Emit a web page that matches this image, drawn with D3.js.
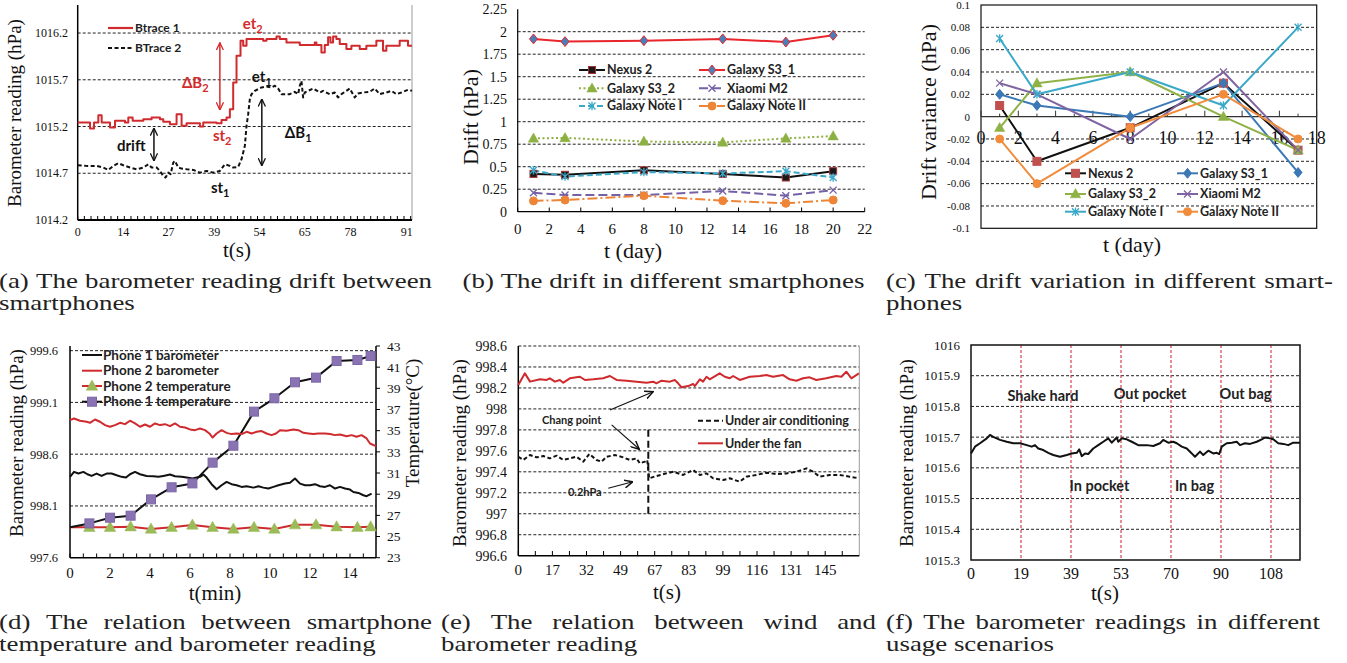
<!DOCTYPE html>
<html><head><meta charset="utf-8">
<script src="https://cdn.jsdelivr.net/npm/d3@7"></script>
<style>body{margin:0;background:#fff}svg{display:block}</style>
</head><body><script>
// ================= DATA =================
// (a) barometer drift between smartphones (x: sample index, y: hPa)
const aYTicks=[1014.2,1014.7,1015.2,1015.7,1016.2];
const aXTickPos=[0,13.7,27.3,41,54.6,68.2,81.9,98.8];
const aXTickLabels=["0","14","27","39","54","65","78","91"];
const aBtrace1=[[0,1015.243],[3.7,1015.179],[4.9,1015.243],[6.2,1015.321],[7.2,1015.243],[9.7,1015.189],[11.2,1015.261],[14.2,1015.243],[15.2,1015.296],[16.5,1015.261],[19.7,1015.279],[22.2,1015.296],[24.7,1015.279],[25.7,1015.25],[27.7,1015.225],[29.7,1015.332],[31.2,1015.207],[32.7,1015.236],[36.7,1015.2],[37.7,1015.243],[41.7,1015.236],[43.2,1015.271],[44.7,1015.296],[45.7,1015.386],[46.7,1015.671],[47.7,1015.957],[48.9,1016.118],[49.7,1016.064],[50.7,1016.136],[55.7,1016.118],[56.7,1016.136],[59.7,1016.164],[60.7,1016.136],[62.7,1016.1],[66.7,1016.071],[71.2,1016.1],[71.7,1016.071],[73.2,1015.993],[74.2,1016.071],[75.2,1016.154],[75.9,1016.1],[76.7,1016.164],[77.7,1016.136],[78.7,1016.082],[80.7,1016.029],[82.2,1016.064],[84.7,1016.029],[86.7,1016.064],[89.7,1016.118],[91.7,1016.011],[92.7,1016.064],[96.7,1016.118],[99.2,1016.064],[100.4,1016.064]];
const aBtrace2=[[0,1014.786],[2.7,1014.779],[5.7,1014.779],[7.7,1014.761],[9.2,1014.736],[10.7,1014.779],[12.2,1014.807],[13.7,1014.786],[15.7,1014.761],[17.7,1014.743],[19.7,1014.761],[21.2,1014.796],[22.2,1014.761],[23.7,1014.761],[24.7,1014.725],[25.7,1014.671],[26.4,1014.654],[27.2,1014.707],[27.9,1014.689],[28.7,1014.814],[29.2,1014.832],[30.2,1014.761],[31.2,1014.75],[32.7,1014.743],[34.7,1014.736],[36.7,1014.707],[38.7,1014.725],[40.7,1014.707],[42.7,1014.725],[44.2,1014.796],[45.7,1014.779],[46.7,1014.761],[48.2,1014.768],[49.2,1014.85],[50.2,1014.993],[50.7,1015.207],[51.2,1015.332],[51.7,1015.493],[52.2,1015.546],[53.2,1015.582],[55.2,1015.618],[56.7,1015.629],[58.2,1015.618],[59.2,1015.636],[60.2,1015.607],[61.2,1015.546],[63.7,1015.546],[65.2,1015.571],[66.2,1015.546],[66.7,1015.636],[67.2,1015.689],[67.7,1015.511],[68.2,1015.564],[69.2,1015.582],[70.7,1015.607],[72.7,1015.564],[73.7,1015.582],[75.7,1015.546],[77.2,1015.564],[78.2,1015.511],[79.2,1015.546],[80.7,1015.582],[81.7,1015.607],[83.2,1015.511],[84.2,1015.554],[85.7,1015.564],[87.7,1015.571],[89.2,1015.607],[90.7,1015.546],[92.7,1015.564],[94.2,1015.582],[95.7,1015.546],[97.2,1015.564],[99.2,1015.593],[100.4,1015.582]];
const aNotes=[
 {t:"et",sub:"2",x:49.6,y:1016.24,c:"red"},{t:"ΔB",sub:"2",x:31.3,y:1015.61,c:"red"},
 {t:"st",sub:"2",x:40.6,y:1015.045,c:"red"},{t:"drift",sub:"",x:11.8,y:1014.94,c:"black"},
 {t:"st",sub:"1",x:40,y:1014.49,c:"black"},{t:"et",sub:"1",x:52.3,y:1015.676,c:"black"},
 {t:"ΔB",sub:"1",x:62.2,y:1015.078,c:"black"}];
const aArrows=[{x:42.7,y0:1016.097,y1:1015.377,c:"red"},{x:22.9,y0:1015.184,y1:1014.832,c:"black"},{x:55.3,y0:1015.495,y1:1014.78,c:"black"}];

// (b) drift in different smartphones
const bYTicks=[0,0.25,0.5,0.75,1,1.25,1.5,1.75,2,2.25];
const bXTicks=[0,2,4,6,8,10,12,14,16,18,20,22];
const bDays=[1,3,8,13,17,20];
const bNexus2=[0.42,0.41,0.46,0.42,0.38,0.45];
const bS3_1=[1.92,1.89,1.90,1.92,1.885,1.96];
const bS3_2=[0.815,0.82,0.78,0.77,0.815,0.84];
const bXiaomi=[0.21,0.185,0.185,0.23,0.178,0.24];
const bNoteI=[0.46,0.39,0.44,0.425,0.45,0.38];
const bNoteII=[0.12,0.13,0.178,0.122,0.093,0.13];

// (c) drift variation
const cYTicks=[-0.1,-0.08,-0.06,-0.04,-0.02,0,0.02,0.04,0.06,0.08,0.1];
const cXTicks=[0,2,4,6,8,10,12,14,16,18];
const cDays=[1,3,8,13,17];
const cNexus2=[0.01,-0.04,-0.01,0.03,-0.03];
const cS3_1=[0.02,0.01,0,0.03,-0.05];
const cS3_2=[-0.01,0.03,0.04,0,-0.03];
const cXiaomi=[0.03,0.02,-0.02,0.04,-0.03];
const cNoteI=[0.07,0.02,0.04,0.01,0.08];
const cNoteII=[-0.02,-0.06,-0.01,0.02,-0.02];

// (d) temperature vs barometer
const dYTicks=[997.6,998.1,998.6,999.1,999.6];
const dY2Ticks=[23,25,27,29,31,33,35,37,39,41,43];
const dXTicks=[0,2,4,6,8,10,12,14];
const dTempT=[0,0.97,2.0,3.03,4.05,5.08,6.12,7.13,8.17,9.2,10.22,11.25,12.3,13.33,14.37,15.03];
const dP1Temp=[25.87,26.24,26.78,26.97,28.51,29.65,30.02,31.98,33.58,36.8,38.06,39.57,40.01,41.58,41.68,42.06];
const dP2Temp=[25.87,25.87,25.87,25.93,25.71,25.87,26.09,25.87,25.71,25.87,25.71,26.12,26.12,25.93,25.87,25.93];
const dP1Baro=[[0,998.381],[0.2,998.429],[0.42,998.413],[0.67,998.429],[0.87,998.406],[1.08,998.39],[1.33,998.413],[1.58,998.39],[1.83,998.413],[2.08,998.413],[2.33,998.397],[2.58,998.381],[2.8,998.374],[3.0,998.406],[3.25,998.429],[3.5,998.406],[3.83,998.39],[4.17,998.387],[4.42,998.381],[4.67,998.39],[5.0,998.403],[5.25,998.387],[5.58,998.381],[5.83,998.374],[6.13,998.365],[6.5,998.381],[6.67,998.403],[6.83,998.374],[7.08,998.31],[7.33,998.261],[7.58,998.3],[7.83,998.332],[8.08,998.31],[8.33,998.3],[8.58,998.284],[8.83,998.29],[9.17,998.277],[9.42,998.29],[9.67,998.277],[9.92,998.268],[10.17,998.284],[10.42,998.3],[10.75,998.316],[11.0,998.323],[11.25,998.365],[11.5,998.316],[11.75,998.3],[12.0,998.3],[12.25,998.31],[12.5,998.29],[12.75,998.284],[13.0,998.3],[13.25,998.268],[13.5,998.284],[13.75,998.268],[14.0,998.258],[14.17,998.235],[14.42,998.226],[14.67,998.203],[14.83,998.194],[15.08,998.219]];
const dP2Baro=[[0,998.929],[0.2,998.945],[0.5,998.923],[0.83,998.913],[1.0,998.903],[1.25,998.935],[1.5,998.913],[1.75,998.881],[2.0,998.865],[2.25,998.881],[2.5,998.903],[2.75,998.89],[3.0,998.923],[3.25,998.897],[3.5,998.865],[3.75,998.887],[4.0,998.865],[4.25,998.897],[4.5,998.881],[4.75,998.89],[5.0,998.871],[5.25,998.897],[5.5,998.865],[5.75,998.858],[6.0,998.839],[6.25,998.832],[6.5,998.848],[6.75,998.832],[6.97,998.8],[7.13,998.761],[7.33,998.8],[7.58,998.832],[7.83,998.806],[8.08,998.794],[8.33,998.8],[8.58,998.794],[8.83,998.816],[9.08,998.8],[9.33,998.816],[9.58,998.823],[9.83,998.8],[10.08,998.784],[10.3,998.8],[10.5,998.832],[10.83,998.826],[11.17,998.839],[11.42,998.832],[11.67,998.806],[11.92,998.8],[12.17,998.794],[12.42,998.8],[12.75,998.8],[13.0,998.794],[13.25,998.784],[13.5,998.79],[13.83,998.774],[14.08,998.784],[14.33,998.768],[14.58,998.784],[14.83,998.752],[15.0,998.703],[15.3,998.677]];

// (e) wind vs barometer
const eYTicks=[996.6,996.8,997,997.2,997.4,997.6,997.8,998,998.2,998.4,998.6];
const eXTickPos=[0,16,32,48,64,80,96,112,128,144];
const eXTickLabels=["0","17","32","49","67","83","99","116","131","145"];
const eFan=[[0,998.228],[3.1,998.339],[5.5,998.26],[10.2,998.282],[13.3,998.276],[14.8,998.292],[17.2,998.26],[19.5,998.276],[21.1,998.25],[24.2,998.292],[28.9,998.307],[31.3,998.276],[35.2,998.282],[39.8,998.292],[43,998.314],[46.1,998.276],[50.8,998.269],[55.5,998.26],[60.2,998.25],[63.3,998.26],[64.8,998.244],[67.2,998.269],[71.1,998.26],[73.4,998.276],[75,998.244],[76.6,998.206],[79.7,998.218],[82,998.238],[82.8,998.218],[85.2,998.282],[86.7,998.26],[88.3,998.307],[89.8,998.282],[94.5,998.339],[96.9,998.307],[99.2,998.292],[100.8,998.314],[103.9,998.276],[108.6,998.307],[113.3,998.314],[116.4,998.323],[119.5,998.307],[124.2,998.323],[127.3,998.282],[130.5,998.269],[133.6,998.292],[136.7,998.301],[139.8,998.276],[144.5,998.292],[149.2,998.314],[151.6,998.307],[153.9,998.355],[156.3,998.292],[159.8,998.339]];
const eAir=[[0,997.544],[2.3,997.513],[5.5,997.56],[8.6,997.538],[11.7,997.551],[14.8,997.528],[18,997.554],[21.1,997.513],[24.2,997.528],[27.3,997.544],[30.5,997.497],[33.3,997.57],[36.7,997.513],[39.1,997.497],[41.4,997.544],[45.3,997.56],[49.2,997.538],[52.3,997.513],[55.5,997.528],[57,997.481],[59.4,997.497],[60.5,997.513],[61.4,997.338],[64.8,997.36],[69.5,997.385],[72.7,997.401],[77.3,997.37],[82,997.417],[85.2,997.37],[88.3,997.385],[91.4,997.338],[96.1,997.322],[99.2,997.338],[103.9,997.306],[107,997.354],[111.7,997.37],[116.4,997.392],[121.1,997.379],[125.8,997.385],[130.5,997.401],[135.2,997.433],[138.3,997.401],[141.4,997.354],[146.1,997.37],[150.8,997.37],[155.5,997.354],[159.8,997.338]];
const eChange={x:61,y0:997.0,y1:997.83};
const eNotes=[{t:"Chang point",x:11.1,y:997.89},{t:"0.2hPa",x:23.3,y:997.205}];
const eArrows=[{x0:43,y0:997.99,x1:63.3,y1:998.164},{x0:43.8,y0:997.847,x1:56.8,y1:997.615},{x0:42.2,y0:997.243,x1:53.7,y1:997.305}];

// (f) usage scenarios
const fYTicks=[1015.3,1015.4,1015.5,1015.6,1015.7,1015.8,1015.9,1016];
const fXTickPos=[0,20,40,60,80,100,120];
const fXTickLabels=["0","19","39","53","70","90","108"];
const fEvents=[20,40,60,80,100,120];
const fLabels=[{t:"Shake hard",x:28.8,y:1015.835},{t:"Out pocket",x:71.6,y:1015.84},{t:"Out bag",x:109.8,y:1015.84},{t:"In pocket",x:51.4,y:1015.54},{t:"In bag",x:89.4,y:1015.54}];
const fLine=[[0,1015.647],[1.6,1015.669],[3.6,1015.68],[6.3,1015.696],[7.6,1015.707],[8.9,1015.701],[11.6,1015.691],[14.3,1015.685],[16.9,1015.68],[19.6,1015.68],[22.3,1015.674],[24.3,1015.669],[25.6,1015.674],[26.9,1015.663],[28.9,1015.658],[30.9,1015.649],[32.9,1015.642],[35.6,1015.636],[38.3,1015.642],[40.3,1015.647],[42.3,1015.649],[43.3,1015.66],[44.3,1015.638],[45.6,1015.647],[46.9,1015.645],[48.9,1015.663],[50.9,1015.674],[52.9,1015.685],[54.9,1015.696],[56.3,1015.682],[58.3,1015.699],[58.9,1015.685],[60.3,1015.696],[62.3,1015.693],[64.3,1015.685],[66.9,1015.674],[70.3,1015.674],[72.9,1015.671],[75.6,1015.68],[76.9,1015.691],[78.9,1015.682],[80.9,1015.685],[82.3,1015.68],[84.3,1015.669],[86.3,1015.663],[88.3,1015.647],[89.6,1015.636],[91.6,1015.653],[92.9,1015.642],[94.9,1015.656],[96.9,1015.647],[98.3,1015.649],[99.3,1015.645],[100.3,1015.669],[102.3,1015.68],[104.3,1015.682],[106.3,1015.685],[107.6,1015.674],[109.6,1015.68],[111.6,1015.678],[114.3,1015.685],[116.3,1015.693],[117.6,1015.699],[119.6,1015.696],[120.9,1015.693],[122.9,1015.68],[124.9,1015.678],[126.9,1015.674],[128.9,1015.682],[131.6,1015.682]];

// captions
const captions=[
 {lines:["(a) The barometer reading drift between","smartphones"],x:-1,w:433,y:288,modes:["justify","left"]},
 {lines:["(b) The drift in different smartphones"],x:440,w:447,y:288,modes:["center"]},
 {lines:["(c) The drift variation in different smart-","phones"],x:886,w:447,y:288,modes:["justify","left"]},
 {lines:["(d) The relation between smartphone","temperature and barometer reading"],x:-1,w:433,y:629,modes:["justify","left"]},
 {lines:["(e) The relation between wind and","barometer reading"],x:441,w:435,y:629,modes:["justify","left"]},
 {lines:["(f) The barometer readings in different","usage scenarios"],x:886,w:434,y:629,modes:["justify","left"]}];

// ================= DRAWING =================
const SERIF="'Liberation Serif','Times New Roman',serif";
const SANS="Lato,'Open Sans',sans-serif";
const svg=d3.select("body").append("svg").attr("width",1347).attr("height",663);
const defs=svg.append("defs");
function arrowMarker(id,color,size){
  defs.append("marker").attr("id",id).attr("viewBox","0 0 10 10").attr("refX",9.5).attr("refY",5)
   .attr("markerWidth",size).attr("markerHeight",size).attr("markerUnits","userSpaceOnUse")
   .attr("orient","auto-start-reverse").append("path").attr("d","M0,0.5 L9.5,5 L0,9.5")
   .attr("fill","none").attr("stroke",color).attr("stroke-width",1.6);
}
arrowMarker("arR","#d42a2a",8);arrowMarker("arK","#111",8);arrowMarker("arK2","#111",9);

function ln(g,x1,y1,x2,y2,st){const l=g.append("line").attr("x1",x1).attr("y1",y1).attr("x2",x2).attr("y2",y2)
  .attr("stroke",st.c||"#000").attr("stroke-width",st.w||1);if(st.d)l.attr("stroke-dasharray",st.d);return l;}
function grid(g,ys,vals,x0,x1){vals.forEach(v=>ln(g,x0,ys(v),x1,ys(v),{c:"#222",w:1,d:"3,2"}));}
function yLab(g,ys,vals,x,size,anchor,fmt){vals.forEach(v=>g.append("text").attr("x",x).attr("y",ys(v)).attr("dy","0.35em")
  .attr("text-anchor",anchor||"end").attr("font-family",SERIF).attr("font-size",size).attr("fill","#111").text(fmt?fmt(v):v));}
function xLab(g,xs,pos,labels,y,size){pos.forEach((p,i)=>g.append("text").attr("x",xs(p)).attr("y",y)
  .attr("text-anchor","middle").attr("font-family",SERIF).attr("font-size",size).attr("fill","#111").text(labels[i]));}
function title(g,t,x,y,size,rot){const e=g.append("text").attr("text-anchor","middle").attr("font-family",SERIF)
  .attr("font-size",size).attr("fill","#111").text(t);
  if(rot)e.attr("transform",`translate(${x},${y}) rotate(-90)`);else e.attr("x",x).attr("y",y);return e;}
function path(g,data,xs,ys,st,curve){const p=g.append("path").attr("d",d3.line().x(d=>xs(d[0])).y(d=>ys(d[1])).curve(curve||d3.curveLinear)(data))
  .attr("fill","none").attr("stroke",st.c).attr("stroke-width",st.w||2).attr("stroke-linejoin","round");
  if(st.d)p.attr("stroke-dasharray",st.d);return p;}
function mark(g,type,x,y,o){
  const s=o.s||7;
  if(type==="square")g.append("rect").attr("x",x-s/2).attr("y",y-s/2).attr("width",s).attr("height",s).attr("fill",o.f).attr("stroke",o.st||o.f).attr("stroke-width",o.sw||1);
  else if(type==="diamond")g.append("path").attr("d",`M${x},${y-s*0.62}L${x+s*0.5},${y}L${x},${y+s*0.62}L${x-s*0.5},${y}Z`).attr("fill",o.f).attr("stroke",o.st||o.f).attr("stroke-width",o.sw||1);
  else if(type==="triangle")g.append("path").attr("d",`M${x},${y-s*0.6}L${x+s*0.58},${y+s*0.42}L${x-s*0.58},${y+s*0.42}Z`).attr("fill",o.f).attr("stroke",o.st||o.f).attr("stroke-width",o.sw||0.5);
  else if(type==="circle")g.append("circle").attr("cx",x).attr("cy",y).attr("r",s/2).attr("fill",o.f).attr("stroke",o.st||o.f);
  else if(type==="x"){const h=s/2;g.append("path").attr("d",`M${x-h},${y-h}L${x+h},${y+h}M${x-h},${y+h}L${x+h},${y-h}`).attr("stroke",o.f).attr("stroke-width",1.3).attr("fill","none");}
  else if(type==="asterisk"){const h=s/2;g.append("path").attr("d",`M${x-h},${y-h}L${x+h},${y+h}M${x-h},${y+h}L${x+h},${y-h}M${x},${y-h*1.2}L${x},${y+h*1.2}`).attr("stroke",o.f).attr("stroke-width",1.3).attr("fill","none");}
}
function legendText(g,t,x,y,size,color){return g.append("text").attr("x",x).attr("y",y).attr("dy","0.35em").attr("font-family",SANS)
  .attr("font-weight",700).attr("font-size",size).attr("fill",color||"#222").text(t);}

// ---------- (a) ----------
{
const g=svg.append("g");
const xs=d3.scaleLinear().domain([0,100.4]).range([77.7,412]);
const ys=d3.scaleLinear().domain([1014.2,1016.5]).range([220,5]);
grid(g,ys,aYTicks.slice(1),xs(0),xs(100.4));
ln(g,xs(100.4),5,xs(100.4),220,{c:"#9a9a9a",w:1});
d3.range(0,100.4,2).forEach(t=>ln(g,xs(t),220,xs(t),216,{c:"#000",w:1}));
ln(g,xs(0),5,xs(0),220,{c:"#000",w:1.5});
ln(g,xs(0),220,xs(100.4),220,{c:"#000",w:2});
yLab(g,ys,aYTicks,68,12,"end",v=>v.toFixed(1));
xLab(g,xs,aXTickPos,aXTickLabels,236,12);
title(g,"Barometer reading (hPa)",21,113,19,true);
title(g,"t(s)",237,257,21);
path(g,aBtrace2,xs,ys,{c:"#111",w:2,d:"4,2.5"});
path(g,aBtrace1,xs,ys,{c:"#cf2a2e",w:2},d3.curveStepAfter);
ln(g,108,28,133,28,{c:"#cf2a2e",w:2.2});legendText(g,"Btrace 1",135,28,12);
ln(g,108,48,133,48,{c:"#111",w:2.2,d:"4,2.5"});legendText(g,"BTrace 2",135,48,12);
aArrows.forEach(a=>ln(g,xs(a.x),ys(a.y0),xs(a.x),ys(a.y1),{c:a.c==="red"?"#d42a2a":"#111",w:1.5})
  .attr("marker-start",`url(#${a.c==="red"?"arR":"arK"})`).attr("marker-end",`url(#${a.c==="red"?"arR":"arK"})`));
aNotes.forEach(n=>{const t=g.append("text").attr("x",xs(n.x)).attr("y",ys(n.y)).attr("font-family",SANS).attr("font-weight",700)
  .attr("font-size",15).attr("fill",n.c==="red"?"#d42a2a":"#111").text(n.t);
  if(n.sub)t.append("tspan").attr("dy",4).attr("font-size",11).text(n.sub);});
}

// ---------- (b) ----------
{
const g=svg.append("g");
const xs=d3.scaleLinear().domain([0,22]).range([517.7,864.7]);
const ys=d3.scaleLinear().domain([0,2.25]).range([211.7,9.2]);
grid(g,ys,bYTicks.slice(1,-1),xs(0),xs(22));
bXTicks.forEach(t=>ln(g,xs(t),211.7,xs(t),207.5,{c:"#000",w:1}));
ln(g,xs(0),9.2,xs(0),211.7,{c:"#000",w:1.2});
ln(g,xs(0),211.7,xs(22),211.7,{c:"#000",w:1.2});
yLab(g,ys,bYTicks,507,14);
xLab(g,xs,bXTicks,bXTicks.map(String),234,15);
title(g,"Drift (hPa)",478,117,22,true);
title(g,"t (day)",633,258,22);
const S=[
 {n:"Nexus 2",v:bNexus2,c:"#111",d:null,m:"square",mo:{f:"#1a1a1a",st:"#a83232",s:7}},
 {n:"Galaxy S3_1",v:bS3_1,c:"#e8262b",d:null,m:"diamond",mo:{f:"#4a7ebb",st:"#e8262b",s:8}},
 {n:"Galaxy S3_2",v:bS3_2,c:"#8db042",d:"2,2.5",m:"triangle",mo:{f:"#8db042",s:9}},
 {n:"Xiaomi M2",v:bXiaomi,c:"#7461a6",d:"9,4",m:"x",mo:{f:"#7461a6",s:7}},
 {n:"Galaxy Note I",v:bNoteI,c:"#3aa9c9",d:"6,3",m:"asterisk",mo:{f:"#3aa9c9",s:7}},
 {n:"Galaxy Note II",v:bNoteII,c:"#ee8536",d:"10,3,2,3",m:"circle",mo:{f:"#ee8536",s:8}}];
S.forEach(s=>path(g,bDays.map((d,i)=>[d,s.v[i]]),xs,ys,{c:s.c,w:2,d:s.d}));
S.forEach(s=>bDays.forEach((d,i)=>mark(g,s.m,xs(d),ys(s.v[i]),s.mo)));
const lx=[579,699],ly=[70,88.3,106];
S.forEach((s,i)=>{const x=lx[i%2],y=ly[Math.floor(i/2)];
  ln(g,x,y,x+26,y,{c:s.c,w:2,d:s.d});mark(g,s.m,x+13,y,s.mo);legendText(g,s.n,x+28,y,12.5);});
}

// ---------- (c) ----------
{
const g=svg.append("g");
const xs=d3.scaleLinear().domain([0,18]).range([981,1316.7]);
const ys=d3.scaleLinear().domain([-0.1,0.1]).range([228.3,5]);
grid(g,ys,cYTicks.filter(v=>Math.abs(v)>1e-9&&Math.abs(v)<0.099),xs(0),xs(18));
g.append("rect").attr("x",xs(0)).attr("y",ys(0.1)).attr("width",xs(18)-xs(0)).attr("height",ys(-0.1)-ys(0.1)).attr("fill","none").attr("stroke","#111").attr("stroke-width",1.2);
ln(g,xs(0),ys(0),xs(18),ys(0),{c:"#333",w:1.2});
d3.range(0,18.01,1).forEach(t=>ln(g,xs(t),ys(0),xs(t),ys(0)-(t%2===0?6:3),{c:"#333",w:1}));
yLab(g,ys,cYTicks,970,11,"end",v=>Math.abs(v)<1e-9?"0":(Math.abs(v)===0.1?(v<0?"-0.1":"0.1"):v.toFixed(2)));
xLab(g,xs,cXTicks,cXTicks.map(String),144,18);
title(g,"Drift variance (hPa)",936,112,22,true);
title(g,"t (day)",1132,252,22);
const S=[
 {n:"Nexus 2",v:cNexus2,c:"#111",m:"square",mo:{f:"#c0504d",s:8}},
 {n:"Galaxy S3_1",v:cS3_1,c:"#3b78b5",m:"diamond",mo:{f:"#3b78b5",s:8}},
 {n:"Galaxy S3_2",v:cS3_2,c:"#8fb246",m:"triangle",mo:{f:"#8fb246",s:9}},
 {n:"Xiaomi M2",v:cXiaomi,c:"#8064a2",m:"x",mo:{f:"#8064a2",s:7}},
 {n:"Galaxy Note I",v:cNoteI,c:"#3aa9c9",m:"asterisk",mo:{f:"#3aa9c9",s:7}},
 {n:"Galaxy Note II",v:cNoteII,c:"#f08c3c",m:"circle",mo:{f:"#f08c3c",s:8}}];
S.forEach(s=>path(g,cDays.map((d,i)=>[d,s.v[i]]),xs,ys,{c:s.c,w:2}));
S.forEach(s=>cDays.forEach((d,i)=>mark(g,s.m,xs(d),ys(s.v[i]),s.mo)));
const lx=[1065,1177],ly=[173.3,194,211.7];
S.forEach((s,i)=>{const x=lx[i%2],y=ly[Math.floor(i/2)];
  ln(g,x,y,x+21,y,{c:s.c,w:2});mark(g,s.m,x+10.5,y,s.mo);legendText(g,s.n,x+23,y,12.5);});
}

// ---------- (d) ----------
{
const g=svg.append("g");
const xs=d3.scaleLinear().domain([0,15.3]).range([70,376]);
const ys=d3.scaleLinear().domain([997.6,999.645]).range([557.7,346]);
const ys2=d3.scaleLinear().domain([23,43]).range([557.7,346]);
grid(g,ys,dYTicks.slice(1),xs(0),xs(15.3));
d3.range(0,15.3,2/3).forEach(t=>ln(g,xs(t),557.7,xs(t),553.5,{c:"#000",w:1}));
dY2Ticks.forEach(v=>ln(g,376,ys2(v),380,ys2(v),{c:"#000",w:1}));
ln(g,70,346,70,557.7,{c:"#000",w:1.5});ln(g,376,346,376,557.7,{c:"#000",w:1.5});
ln(g,70,557.7,376,557.7,{c:"#000",w:1.5});
yLab(g,ys,dYTicks,58,12.5,"end",v=>v.toFixed(1));
yLab(g,ys2,dY2Ticks,387,13.5,"start");
xLab(g,xs,dXTicks,dXTicks.map(String),578,15);
title(g,"Barometer reading (hPa)",23,443,19,true);
title(g,"Temperature(°C)",419,423,19,true);
title(g,"t(min)",215,600,21);
path(g,dTempT.map((t,i)=>[t,dP2Temp[i]]),xs,ys2,{c:"#cf2a2e",w:2});
path(g,dTempT.map((t,i)=>[t,dP1Temp[i]]),xs,ys2,{c:"#111",w:2});
path(g,dP2Baro,xs,ys,{c:"#cf2a2e",w:2});
path(g,dP1Baro,xs,ys,{c:"#111",w:2});
dTempT.forEach((t,i)=>{if(i>0){mark(g,"triangle",xs(t),ys2(dP2Temp[i]),{f:"#9bbb59",s:10});
  mark(g,"square",xs(t),ys2(dP1Temp[i]),{f:"#8a73b3",st:"#7a66a3",s:9});}});
const L=[{n:"Phone 1 barometer",c:"#111"},{n:"Phone 2 barometer",c:"#cf2a2e"},{n:"Phone 2 temperature",c:"#cf2a2e",m:"triangle",mo:{f:"#9bbb59",s:10}},{n:"Phone 1 temperature",c:"#111",m:"square",mo:{f:"#8a73b3",st:"#7a66a3",s:9}}];
const ly=[355,370.7,386,401.7];
L.forEach((l,i)=>{ln(g,82,ly[i],102,ly[i],{c:l.c,w:2});if(l.m)mark(g,l.m,92,ly[i],l.mo);legendText(g,l.n,103,ly[i],13.5);});
}

// ---------- (e) ----------
{
const g=svg.append("g");
const xs=d3.scaleLinear().domain([0,160]).range([518.3,859.3]);
const ys=d3.scaleLinear().domain([996.6,998.6]).range([555.7,346]);
grid(g,ys,eYTicks.slice(1),xs(0),xs(160));
ln(g,xs(160),346,xs(160),555.7,{c:"#9a9a9a",w:1});
d3.range(0,160,8).forEach(t=>ln(g,xs(t),555.7,xs(t),551,{c:"#000",w:1}));
ln(g,xs(0),346,xs(0),555.7,{c:"#000",w:1.5});ln(g,xs(0),555.7,xs(160),555.7,{c:"#000",w:1.5});
yLab(g,ys,eYTicks,507,14,"end",v=>String(+v.toFixed(1)));
xLab(g,xs,eXTickPos,eXTickLabels,575,15);
title(g,"Barometer reading (hPa)",466,453,19,true);
title(g,"t(s)",667,599,21);
path(g,eAir,xs,ys,{c:"#111",w:2,d:"4,2.5"});
path(g,eFan,xs,ys,{c:"#cf2a2e",w:2});
ln(g,xs(eChange.x),ys(eChange.y0),xs(eChange.x),ys(eChange.y1),{c:"#111",w:2,d:"7,4"});
eArrows.forEach(a=>ln(g,xs(a.x0),ys(a.y0),xs(a.x1),ys(a.y1),{c:"#111",w:1.1}).attr("marker-end","url(#arK2)"));
eNotes.forEach(n=>g.append("text").attr("x",xs(n.x)).attr("y",ys(n.y)).attr("dy","0.35em").attr("font-family",SANS).attr("font-weight",700).attr("font-size",11).attr("fill","#222").text(n.t));
ln(g,698,420.7,723,420.7,{c:"#111",w:2,d:"5,3"});legendText(g,"Under air conditioning",725,420.7,12.5);
ln(g,698,443.3,723,443.3,{c:"#cf2a2e",w:2});legendText(g,"Under the fan",725,443.3,12.5);
}

// ---------- (f) ----------
{
const g=svg.append("g");
const xs=d3.scaleLinear().domain([0,131.6]).range([971,1300]);
const ys=d3.scaleLinear().domain([1015.3,1016]).range([560,345]);
grid(g,ys,fYTicks.slice(1,-1),xs(0),xs(131.6));
fEvents.forEach(t=>ln(g,xs(t),345,xs(t),560,{c:"#d23040",w:1.1,d:"3,2"}));
g.append("rect").attr("x",xs(0)).attr("y",345).attr("width",xs(131.6)-xs(0)).attr("height",215).attr("fill","none").attr("stroke","#111").attr("stroke-width",1.5);
yLab(g,ys,fYTicks,960,13,"end",v=>String(+v.toFixed(1)));
xLab(g,xs,fXTickPos,fXTickLabels,579,16);
title(g,"Barometer reading (hPa)",913,453,19,true);
title(g,"t(s)",1105,600,21);
path(g,fLine,xs,ys,{c:"#111",w:2});
fLabels.forEach(l=>g.append("text").attr("x",xs(l.x)).attr("y",ys(l.y)).attr("dy","0.35em").attr("text-anchor","middle")
  .attr("font-family",SANS).attr("font-weight",700).attr("font-size",14.5).attr("fill","#222").text(l.t));
}

// ---------- captions ----------
const K=1.28,CF=21;
function capLine(text,x0,y,width,mode){
  const g=svg.append("g").attr("transform",`translate(${x0},${y}) scale(${K},1)`);
  const words=text.split(" ");
  const nodes=words.map(w=>g.append("text").attr("font-family",SERIF).attr("font-size",CF).attr("fill","#222").text(w));
  const ws=nodes.map(n=>n.node().getComputedTextLength());
  const sum=d3.sum(ws),Wd=width/K;
  let gap=CF*0.25;
  if(mode==="justify"&&words.length>1)gap=(Wd-sum)/(words.length-1);
  let x=mode==="center"?(Wd-sum-gap*(words.length-1))/2:0;
  nodes.forEach((n,i)=>{n.attr("x",x);x+=ws[i]+gap;});
}
captions.forEach(c=>c.lines.forEach((l,i)=>capLine(l,c.x,c.y+i*22,c.w,c.modes[i])));
</script></body></html>
